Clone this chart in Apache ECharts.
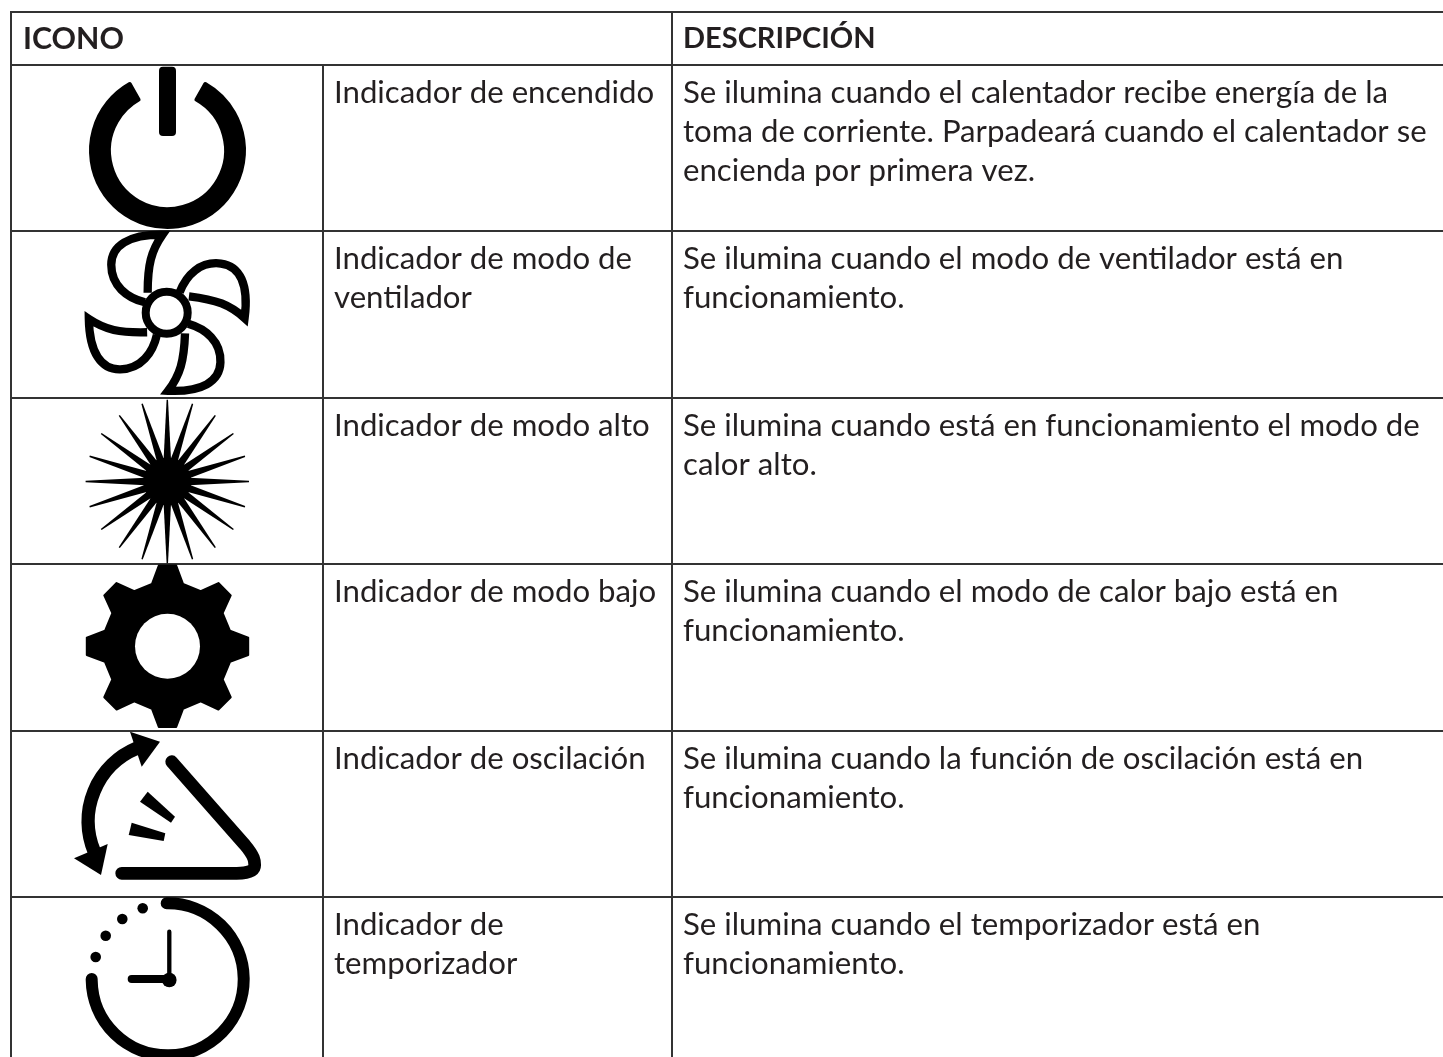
<!DOCTYPE html>
<html><head><meta charset="utf-8">
<style>html,body{margin:0;padding:0;background:#fff}#c{width:1443px;height:1057px}</style>
<script src="https://cdn.jsdelivr.net/npm/echarts@6/dist/echarts.min.js"></script>
</head><body><div id="c"></div>
<script>
const headers = ['ICONO', 'DESCRIPCIÓN'];
const icons = ['power', 'fan', 'burst', 'gear', 'swing', 'timer'];
const labels = [
  ['Indicador de encendido'],
  ['Indicador de modo de', 'ventilador'],
  ['Indicador de modo alto'],
  ['Indicador de modo bajo'],
  ['Indicador de oscilación'],
  ['Indicador de', 'temporizador']
];
const descriptions = [
  ['Se ilumina cuando el calentador recibe energía de la', 'toma de corriente. Parpadeará cuando el calentador se', 'encienda por primera vez.'],
  ['Se ilumina cuando el modo de ventilador está en', 'funcionamiento.'],
  ['Se ilumina cuando está en funcionamiento el modo de', 'calor alto.'],
  ['Se ilumina cuando el modo de calor bajo está en', 'funcionamiento.'],
  ['Se ilumina cuando la función de oscilación está en', 'funcionamiento.'],
  ['Se ilumina cuando el temporizador está en', 'funcionamiento.']
];

const INK = '#000', RULE = '#333', TXT = '#231f20', FONT = 'Lato', SIZE = 31.2;
const LEFT = 11, COL1 = 323, COL2 = 672, RIGHT = 1443, TOP = 12, PAD = 11;

function fillP(d, extra) { return Object.assign({type:'path', shape:{pathData:d}, style:{fill:INK, stroke:null}}, extra||{}); }
function strokeP(d, w, cap, join) { return {type:'path', shape:{pathData:d}, style:{fill:null, stroke:INK, lineWidth:w, lineCap:cap||'butt', lineJoin:join||'miter', miterLimit:10}}; }
function dot(x, y, r, fill) { return {type:'circle', shape:{cx:x, cy:y, r:r}, style:{fill:fill||INK}}; }

const iconDraw = {
  power() {
    const a = 29.6*Math.PI/180, Ro = 76.5, Ri = 58.5, s = Math.sin(a), c = Math.cos(a);
    const d = `M${-Ro*s} ${-Ro*c}A${Ro} ${Ro} 0 1 0 ${Ro*s} ${-Ro*c}L${Ri*s} ${-Ri*c}A${Ri} ${Ri} 0 1 1 ${-Ri*s} ${-Ri*c}Z`;
    return {cx:167.5, cy:85.5, children:[
      {type:'path', shape:{pathData:d}, style:{fill:INK, stroke:INK, lineWidth:4, lineJoin:'round'}},
      {type:'rect', shape:{x:-8.5, y:-83.8, width:17, height:69.3, r:4}, style:{fill:INK}}
    ]};
  },
  fan() {
    const blade = 'M-21 -10C-38.3 -14.3 -53.3 -26 -53.3 -46C-53.3 -64.3 -36.7 -75.3 -4 -75C-15 -59.3 -18.3 -46 -18.3 -19.3';
    const ch = [0, 97, 182, 268.5].map(deg => ({type:'group', scaleX:1.04, scaleY:1.04, rotation:-deg*Math.PI/180, children:[strokeP(blade, 8)]}));
    ch.push({type:'circle', shape:{cx:0, cy:0, r:21}, style:{fill:'#fff', stroke:INK, lineWidth:8}});
    return {cx:166.7, cy:81.7, children:ch};
  },
  burst() {
    const ch = [dot(0, 0, 24)];
    for (let k = 0; k < 20; k++) {
      ch.push({type:'group', rotation:k*18*Math.PI/180, children:[
        fillP('M-3.7 -22L-0.7 -81.7L0.7 -81.7L3.7 -22Z')
      ]});
    }
    return {cx:167.3, cy:83.5, children:ch};
  },
  gear() {
    let d = '';
    for (let k = 0; k < 8; k++) {
      const t = k*Math.PI/4, s = Math.sin(t), c = Math.cos(t);
      [[-15.5, 62.5], [-8.7, 80.7], [8.7, 80.7], [15.5, 62.5]].forEach((p, i) => {
        const x = p[0]*c - (-p[1])*s, y = p[0]*s + (-p[1])*c;
        d += (k === 0 && i === 0 ? 'M' : 'L') + x.toFixed(2) + ' ' + y.toFixed(2);
      });
    }
    d += 'Z';
    return {cx:167.5, cy:82.3, children:[
      {type:'path', shape:{pathData:d}, style:{fill:INK, stroke:INK, lineWidth:2, lineJoin:'round'}},
      dot(0, 0, 32.5, '#fff')
    ]};
  },
  swing() {
    return {cx:167, cy:82, children:[
      strokeP('M-30.3 -64.7A79 79 0 0 0 -72 40.3', 13.5),
      fillP('M-37 -81.3L-7 -71.3L-25.3 -46.3Z'),
      fillP('M-93 45.3L-59.3 31L-66 62Z'),
      strokeP('M4.7 -51.3L78 32C87.7 43.7 87.7 48 87.7 52C87.7 58 81.3 60.3 69.7 60.3L-45.3 60.3', 12.7, 'round', 'round'),
      fillP('M-19.3 -21.3L8 3.7L4 9.7L-27 -11.3Z'),
      fillP('M-35.3 9.7L-1.7 20.3L-3.3 28L-38.3 22Z')
    ]};
  },
  timer() {
    return {cx:168, cy:83, children:[
      strokeP('M-1.3 -76.7A76 76 0 1 1 -76.3 -1', 12, 'round', 'round'),
      strokeP('M1.3 -48.3L1.3 0', 4.3, 'round'),
      strokeP('M-36.3 -1L1.3 -1', 8, 'round'),
      dot(1.3, 0, 7.3),
      dot(-25.3, -71.7, 5.3), dot(-45.7, -61, 5.3), dot(-62.3, -44.3, 5.3), dot(-72.3, -23, 5.3)
    ]};
  }
};

function textEl(str, x, y, size, bold) {
  return {type:'text', x:x, y:y, style:{text:str, fill:TXT, fontFamily:FONT, fontSize:size, fontWeight:bold?'bold':'normal', align:'left', verticalAlign:'middle'}};
}
function ruleEl(x1, y1, x2, y2) {
  return {type:'line', shape:{x1:x1, y1:y1, x2:x2, y2:y2}, style:{stroke:RULE, lineWidth:2}};
}

function renderRow(params, api) {
  const i = api.value(0);
  const top = Math.round(api.coord([0, i])[1]);
  const bottom = Math.round(api.coord([0, i + 1])[1]);
  const icon = iconDraw[icons[i]]();
  const ch = [
    ruleEl(LEFT, bottom, RIGHT, bottom),
    ruleEl(COL1, top, COL1, bottom)
  ];
  ch.push({type:'group', x:icon.cx, y:top + icon.cy, children:icon.children});
  labels[i].forEach((t, k) => ch.push(textEl(t, COL1 + PAD, top + 27.5 + 39*k, SIZE)));
  descriptions[i].forEach((t, k) => ch.push(textEl(t, COL2 + PAD, top + 27.5 + 39*k, SIZE)));
  return {type:'group', children:ch};
}

function renderHead(params, api) {
  const top = Math.round(api.coord([0, 0])[1]);
  return {type:'group', children:[
    ruleEl(LEFT - 1, TOP, RIGHT, TOP),
    ruleEl(LEFT, top, RIGHT, top),
    ruleEl(LEFT, TOP, LEFT, 1057),
    ruleEl(COL2, TOP, COL2, 1057),
    textEl(headers[0], LEFT + PAD + 1, 39, 30.3, true),
    textEl(headers[1], COL2 + PAD, 39, 29, true)
  ]};
}

const chart = echarts.init(document.getElementById('c'), null, {renderer:'canvas'});
chart.setOption({
  animation:false,
  backgroundColor:'#fff',
  grid:{left:0, top:65, right:0, bottom:0},
  xAxis:{type:'value', min:0, max:1443, show:false},
  yAxis:{type:'value', min:0, max:5.96, inverse:true, show:false},
  series:[
    {type:'custom', coordinateSystem:'cartesian2d', clip:false, silent:true, data:icons.map((n, i) => [i]), encode:{y:0}, renderItem:renderRow},
    {type:'custom', coordinateSystem:'cartesian2d', clip:false, silent:true, data:[[0]], encode:{y:0}, renderItem:renderHead}
  ]
});
</script></body></html>
